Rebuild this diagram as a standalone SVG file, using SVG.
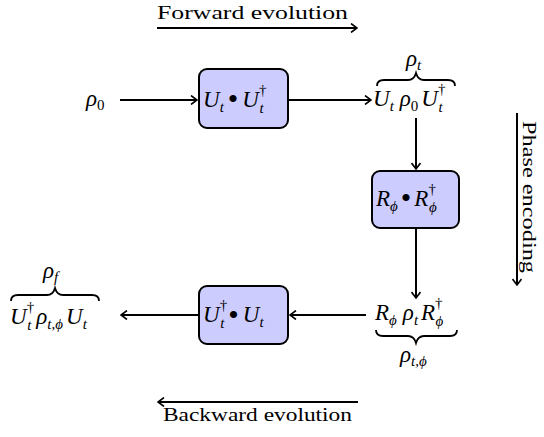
<svg xmlns="http://www.w3.org/2000/svg" width="544" height="437" viewBox="0 0 544 437">
<defs>
<style>
.lbl{font-family:"Liberation Serif","DejaVu Serif",serif;font-size:19px;fill:#000}
.m{font-family:"Liberation Serif","DejaVu Serif",serif;font-size:23px;font-style:italic;fill:#000}
.s{font-size:15px}
.up{font-style:normal}
.bu{font-style:normal;font-size:30px}
.box{fill:#ccccff;stroke:#000;stroke-width:2}
.ln{stroke:#000;stroke-width:2;fill:none}
.br{stroke:#000;stroke-width:1.8;fill:none}
</style>
<marker id="ah" viewBox="-7 -5 8 10" markerWidth="8" markerHeight="10" refX="0" refY="0" orient="auto" markerUnits="userSpaceOnUse">
<path d="M-6,-4.5 Q-2,-1.5 0,0 Q-2,1.5 -6,4.5" fill="none" stroke="#000" stroke-width="1.6"/>
</marker>
</defs>
<g id="connectors">
<line class="ln" x1="157" y1="28" x2="357" y2="28" marker-end="url(#ah)"/>
<line class="ln" x1="120" y1="100" x2="197" y2="100" marker-end="url(#ah)"/>
<line class="ln" x1="288" y1="100" x2="371" y2="100" marker-end="url(#ah)"/>
<line class="ln" x1="416" y1="118" x2="416" y2="169" marker-end="url(#ah)"/>
<line class="ln" x1="416" y1="228" x2="416" y2="298" marker-end="url(#ah)"/>
<line class="ln" x1="517" y1="113" x2="517" y2="285" marker-end="url(#ah)"/>
<line class="ln" x1="366" y1="315" x2="290" y2="315" marker-end="url(#ah)"/>
<line class="ln" x1="199" y1="315" x2="121" y2="315" marker-end="url(#ah)"/>
<line class="ln" x1="358" y1="402" x2="158" y2="402" marker-end="url(#ah)"/>
</g>
<g id="forward-label"><text class="lbl" x="157" y="19" textLength="191" lengthAdjust="spacingAndGlyphs">Forward evolution</text></g>
<g id="backward-label"><text class="lbl" x="163" y="421" textLength="189" lengthAdjust="spacingAndGlyphs">Backward evolution</text></g>
<g id="phase-label"><text class="lbl" transform="translate(523,121) rotate(90)" textLength="152" lengthAdjust="spacingAndGlyphs">Phase encoding</text></g>
<g id="rho0"><text class="m" x="86" y="106">ρ<tspan class="s up" dy="4">0</tspan></text></g>
<g id="box1">
<rect class="box" x="199" y="69" width="89" height="59" rx="8"/>
<text class="m" x="203" y="107">U<tspan class="s" dy="5">t</tspan><tspan class="bu" dy="-3" dx="4">•</tspan><tspan dy="-2" dx="4">U</tspan><tspan class="s up" dy="-12">†</tspan><tspan class="s" dx="-7" dy="18">t</tspan></text>
</g>
<g id="rho-t">
<text class="m" x="373" y="106">U<tspan class="s" dy="5">t</tspan><tspan dy="-5" dx="6">ρ</tspan><tspan class="s up" dy="5">0</tspan><tspan dy="-5" dx="3">U</tspan><tspan class="s up" dy="-12">†</tspan><tspan class="s" dx="-7" dy="18">t</tspan></text>
<path class="br" d="M377,86 Q377,80 384,80 L408,80 Q414,80 416,73 Q418,80 424,80 L448,80 Q455,80 455,86"/>
<text class="m" x="406" y="66">ρ<tspan class="s" dy="4">t</tspan></text>
</g>
<g id="box2">
<rect class="box" x="372" y="171" width="87" height="57" rx="8"/>
<text class="m" x="376" y="206">R<tspan class="s" dy="5">ϕ</tspan><tspan class="bu" dy="-3" dx="3">•</tspan><tspan dy="-2" dx="3">R</tspan><tspan class="s up" dy="-12">†</tspan><tspan class="s" dx="-7" dy="18">ϕ</tspan></text>
</g>
<g id="rho-tphi">
<text class="m" x="375" y="320">R<tspan class="s" dy="5">ϕ</tspan><tspan dy="-5" dx="6">ρ</tspan><tspan class="s" dy="5">t</tspan><tspan dy="-5" dx="3">R</tspan><tspan class="s up" dy="-12">†</tspan><tspan class="s" dx="-7" dy="18">ϕ</tspan></text>
<path class="br" d="M376,330 Q376,336 383,336 L408,336 Q414,336 416,343 Q418,336 424,336 L450,336 Q457,336 457,330"/>
<text class="m" x="400" y="362">ρ<tspan class="s" dy="4">t,ϕ</tspan></text>
</g>
<g id="box3">
<rect class="box" x="199" y="286" width="89" height="58" rx="8"/>
<text class="m" x="203" y="322">U<tspan class="s up" dy="-12">†</tspan><tspan class="s" dx="-7" dy="18">t</tspan><tspan class="bu" dy="-3" dx="4">•</tspan><tspan dy="-3" dx="4">U</tspan><tspan class="s" dy="5">t</tspan></text>
</g>
<g id="rho-f">
<text class="m" x="10" y="324">U<tspan class="s up" dy="-12">†</tspan><tspan class="s" dx="-7" dy="18">t</tspan><tspan dy="-6" dx="5">ρ</tspan><tspan class="s" dy="5">t,ϕ</tspan><tspan dy="-5" dx="3">U</tspan><tspan class="s" dy="5">t</tspan></text>
<path class="br" d="M11,301 Q11,295 18,295 L47,295 Q53,295 55,288 Q57,295 63,295 L92,295 Q99,295 99,301"/>
<text class="m" x="43" y="278">ρ<tspan class="s" dy="4">f</tspan></text>
</g>
</svg>
